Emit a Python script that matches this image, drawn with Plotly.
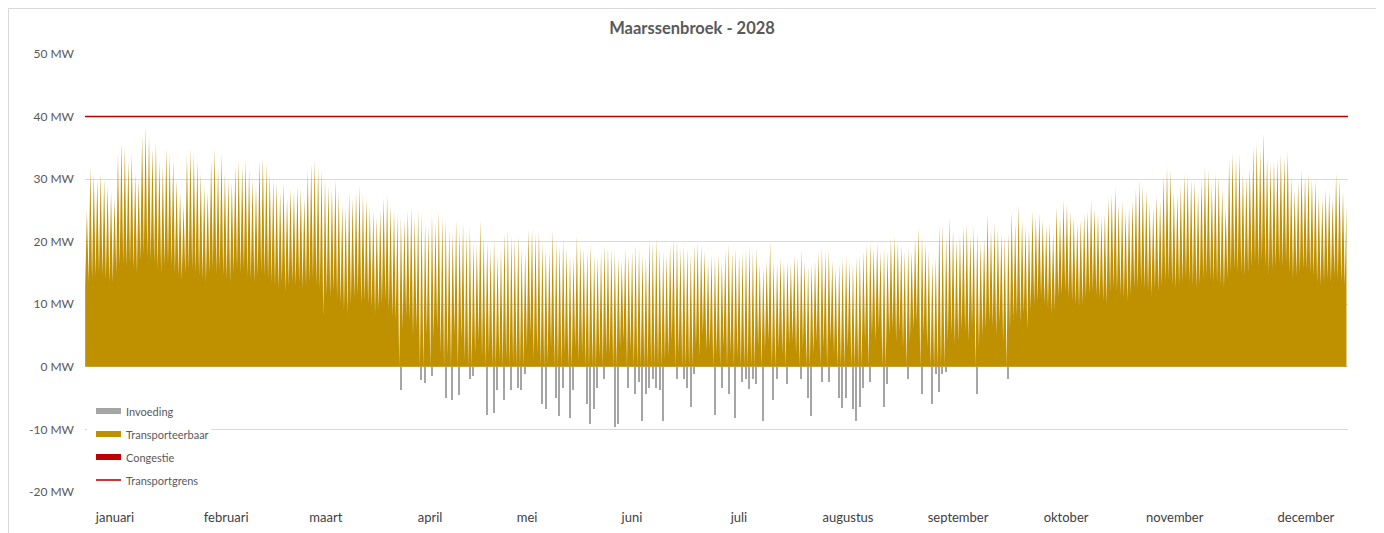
import plotly.graph_objects as go

# ---------------- data (MW) ----------------
# daily peak load per month (Transporteerbaar)
peak_jan = [25, 32, 31, 30, 31, 30, 29, 28, 27, 34, 36, 35, 33, 34, 31, 30, 37, 38.4, 37, 35,
            36, 33, 32, 35, 34, 33, 30, 28, 26, 34, 35]
peak_feb = [34, 33, 31, 29, 28, 33, 35, 32, 34, 31, 30, 29.5, 32, 33, 32, 33, 31.5, 30, 29, 33,
            33.5, 32.5, 31, 30, 29.5, 28, 29.5, 27, 28.5]
peak_mar = [28, 29, 28.5, 27, 31.5, 32.5, 33, 32, 31.5, 30, 29, 28.5, 30, 28, 26, 25.5, 28, 27, 28, 29,
            27.5, 27, 25.5, 25, 24, 25, 27, 27.5, 26, 25, 24.5]
peak_apr = [24, 23.5, 25, 25.5, 24, 25, 24.5, 23, 22.5, 24.5, 23, 25, 24, 23.5, 22, 21.5, 23.5, 22, 23, 21.5,
            22.5, 20, 19.5, 23.5, 21, 20, 19, 20.5, 18, 19]
peak_may = [21.5, 22, 21, 20.5, 21, 19, 18.5, 22, 22.2, 21.5, 22, 20, 19, 18.5, 22, 20, 19.5, 20.5, 19, 18,
            17.5, 21, 19.5, 19, 18.5, 19.8, 18, 17.6, 18.5, 19.5, 19]
peak_jun = [19, 18.5, 17.5, 17, 19, 18, 18.5, 19.5, 19, 18, 17.6, 20.5, 20, 20.6, 19, 18.5, 18, 19.5, 20.5, 20.3,
            19, 19.5, 19, 18, 19.5, 20, 19.5, 18.5, 17, 18]
peak_jul = [17.5, 18, 17, 18.5, 19.8, 18.5, 19, 18, 18.5, 19, 19.5, 18.5, 19, 16.5, 16, 17, 20, 17, 16.5, 17.5,
            17, 17, 16.5, 18, 17.5, 18.7, 17, 16, 16.5, 17, 18.5]
peak_aug = [19, 18.5, 18.8, 17, 16, 16.5, 17.5, 17.8, 17, 16.5, 17.5, 18, 18.5, 19.6, 20, 19, 19.8, 18.5, 19, 18.5,
            20.6, 21, 20, 19.5, 18.5, 19, 18.5, 20.5, 22.4, 21, 20]
peak_sep = [18.5, 17, 17.5, 22.7, 23, 21, 24, 22, 20.5, 21, 22.5, 23, 21, 22.4, 21.5, 20, 20.5, 24.5, 22, 23,
            22, 21.5, 21, 21.5, 24.8, 23, 25.9, 23.5, 22.5, 22]
peak_oct = [24.9, 24, 24.5, 23.5, 22.5, 23, 21.5, 25.6, 24, 26.7, 26.1, 25, 24, 23, 23.5, 24.5, 25, 26.7, 25.5, 24.5,
            24, 24.5, 27, 27.5, 28.8, 26, 26.5, 25, 25.5, 26.7, 28.5]
peak_nov = [29.9, 29, 28.3, 26, 25.5, 27.5, 26.5, 30.5, 32, 31.5, 28, 27.5, 29, 30.9, 30.5, 30, 29.8, 28, 30, 32,
            31.5, 29, 31, 30.4, 28.5, 25.5, 33, 34.2, 33.5, 34]
peak_dec = [31, 30.5, 32, 35.2, 35.8, 34.7, 37.5, 33.4, 32.6, 33, 33.3, 34, 33.5, 34.5, 30.4, 28.3, 29.5, 31.6, 30.5, 31,
            30, 29.9, 27.5, 27, 28.5, 28.2, 27, 31, 30, 28, 25.7]

# daily lowest load per month (Transporteerbaar)
trough_jan = [12.8, 13.5, 14, 14.5, 15, 14.5, 14, 13.5, 13.5, 15, 16, 16.5, 16, 16.5, 15.5, 15, 17, 18, 17.5, 17,
              16.5, 15.5, 15, 16, 16.5, 16, 15, 14.5, 14, 15, 15.5]
trough_feb = [15.5, 15, 14.5, 14, 13.5, 15, 15.5, 15, 15.5, 14.5, 14, 13.5, 15, 15.5, 15, 15.5, 14.5, 14, 13.5, 14.5,
              15, 14.5, 14, 13.5, 13, 12.5, 13.5, 12, 13]
trough_mar = [13.5, 13, 13.5, 12.5, 13, 13.5, 14, 13, 12.5, 8, 11.5, 11, 12, 11, 10, 9, 8.5, 10, 11, 11.5,
              10, 10.5, 10, 9.5, 8.5, 9, 10, 10.5, 9, 8, 7.5]
trough_apr = [0, 6, 8, 7.5, 5, 6, 0, 0, 5, 0, 4.5, 6, 2, 0, 1.5, 0, 5, 0, 4, 1,
              0, 0, 2, 4, 1.5, 0, 2, 0, 0, 1]
trough_may = [0, 1, 0, 0.5, 0, 0, 0, 3, 5, 1, 2, 0, 0, 0.5, 3, 0, 0, 0, 2, 0,
              0, 3, 1, 2, 0, 0, 0, 0, 1.5, 0, 2]
trough_jun = [2, 0, 0, 3, 4, 0, 2.5, 0, 0, 0, 0, 0, 0, 0, 0, 0, 1, 1.5, 4, 0,
              2, 0, 0, 0, 0, 3, 1.5, 5, 2.5, 3]
trough_jul = [0, 2, 0, 3, 0, 2, 0, 1.5, 0, 0, 0, 0, 0, 3, 0, 2.5, 4, 0, 0, 3,
              2, 0, 3.5, 4, 2, 0, 3, 0, 0, 2, 4]
trough_aug = [0, 3, 0, 4, 2, 0, 0, 0, 3, 0, 0, 0, 0, 4, 0, 5, 4, 6, 0, 0,
              5, 6, 4, 5.5, 3, 0, 4, 6, 7, 0, 5]
trough_sep = [3, 0, 0, 0, 0, 0, 4, 5, 3.5, 4, 6, 5.5, 4, 6.5, 0, 3, 5, 6, 7, 6.5,
              5, 7, 4, 0, 6, 7.5, 8, 7, 8.5, 6]
trough_oct = [9, 10, 10.5, 11, 10, 9.5, 8.5, 9, 11, 11.5, 12, 11, 10.5, 10, 9.5, 10, 11, 11.5, 12, 11.5,
              11, 10.5, 10, 12, 12.5, 12, 11.5, 11, 10.5, 11.5, 12.5]
trough_nov = [12.5, 13, 12.5, 12, 11.5, 12.5, 12, 13, 13.5, 14, 13, 12.5, 13, 13.5, 14, 13.5, 13, 12.5, 13, 14,
              14.5, 14, 13.5, 13.5, 13, 12.5, 14, 15, 15.5, 15]
trough_dec = [15, 14.5, 15, 16, 16.5, 16, 17, 16, 15, 15.5, 16, 16.5, 16, 16.5, 15, 14, 14.5, 15, 15.5, 15.5,
              15, 14.5, 13.5, 13, 13.5, 14, 13.5, 14.5, 14, 13.5, 13]

# feed-in (Invoeding): day of year (0 = 1 januari) and lowest value that day
inv_day = [91, 97, 98, 100, 104, 106, 108, 111, 112, 116, 118, 119, 121, 123, 125, 126, 127, 132, 133, 136,
           137, 138, 140, 141, 145, 146, 147, 148, 150, 153, 154, 157, 159, 160, 161, 162, 163, 164, 165, 166,
           167, 171, 173, 174, 175, 176, 182, 184, 186, 188, 190, 191, 192, 193, 194, 196, 199, 200, 203, 207,
           209, 210, 213, 215, 218, 219, 220, 222, 223, 224, 225, 227, 231, 232, 238, 242, 245, 246, 247, 248,
           249, 258, 267]
inv_mw = [-3.7, -2.1, -2.5, -1.5, -5, -5.3, -4.5, -2, -1.5, -7.7, -7.4, -3.7, -5.3, -3.7, -3.4, -3.7, -1.1, -5.9, -6.7, -4.9,
          -7.9, -3.4, -8.2, -3.7, -5.9, -9.1, -6.7, -3.4, -1.9, -9.6, -9.1, -3.4, -4.4, -2.4, -8.7, -4.4, -3.4, -1.9, -3.4, -3.7,
          -8.7, -1.9, -1.9, -3.4, -6.4, -1.1, -7.7, -3.4, -4.4, -8.2, -2.4, -1.9, -3.6, -1.9, -2.7, -8.7, -5.3, -1.9, -2.7, -1.9,
          -4.9, -7.9, -2.4, -2.4, -4.9, -6.6, -4.9, -6.7, -8.7, -6.4, -3.4, -2.4, -6.4, -2.7, -1.9, -4.4, -5.9, -1.1, -4.0, -1.1,
          -0.9, -4.4, -1.9]

transportgrens = 40
n_days = 366
month_names = ["januari", "februari", "maart", "april", "mei", "juni", "juli",
               "augustus", "september", "oktober", "november", "december"]
month_label_day = [8.7, 40.9, 69.8, 100.0, 128.1, 158.5, 189.5, 221.1, 253.0, 284.3, 315.8, 353.8]
y_ticks = [-20, -10, 0, 10, 20, 30, 40, 50]
y_ticktext = ["-20 MW", "-10 MW", "0 MW", "10 MW", "20 MW", "30 MW", "40 MW", "50 MW"]

# ---------------- build ----------------
peaks = (peak_jan + peak_feb + peak_mar + peak_apr + peak_may + peak_jun +
         peak_jul + peak_aug + peak_sep + peak_oct + peak_nov + peak_dec)
troughs = (trough_jan + trough_feb + trough_mar + trough_apr + trough_may + trough_jun +
           trough_jul + trough_aug + trough_sep + trough_oct + trough_nov + trough_dec)

xs, ys = [], []
for d, (t, p) in enumerate(zip(troughs, peaks)):
    xs += [d + 0.05, d + 0.55]
    ys += [t, p]

GOLD = "#BF9000"
GREY = "#A5A5A5"
DARKRED = "#C00000"
TXT = "#595959"
FONT = "Lato"

# the page body has an 8px margin: figure is placed at (8, 8) in the window
OFF = 8
W, H = 1384 - OFF, 533 - OFF

fig = go.Figure()
fig.add_trace(go.Scatter(x=xs, y=ys, mode="lines", fill="tozeroy", fillcolor=GOLD,
                         line=dict(width=0, color=GOLD), name="Transporteerbaar",
                         hoverinfo="skip", showlegend=False))
fig.add_trace(go.Bar(x=[d + 0.5 for d in inv_day], y=inv_mw, width=0.32,
                     marker=dict(color=GREY, line=dict(width=0)), name="Invoeding",
                     showlegend=False))
fig.add_trace(go.Scatter(x=[0, n_days], y=[transportgrens, transportgrens], mode="lines",
                         line=dict(color=DARKRED, width=1.6), name="Transportgrens",
                         showlegend=False))

# plot area in window pixels: left 85, right 1348, top 54, bottom 492
L, R, T, B = 85 - OFF, 1348 - OFF, 54 - OFF, 492 - OFF
def px(x):
    return (x - OFF - L) / (R - L)
def py(y):
    return (B - (y - OFF)) / (B - T)

shapes = []
# outer chart border
shapes.append(dict(type="rect", xref="paper", yref="paper", x0=px(8.5), x1=px(1377), y0=py(560), y1=py(8.5),
                   line=dict(color="#D9D9D9", width=1), fillcolor="rgba(0,0,0,0)", layer="below"))
# legend background
shapes.append(dict(type="rect", xref="paper", yref="paper", x0=px(87), x1=px(211), y0=py(488), y1=py(401),
                   line=dict(width=0), fillcolor="white", layer="above"))
legend_items = [("Invoeding", GREY, 411, "bar"), ("Transporteerbaar", GOLD, 434, "bar"),
                ("Congestie", DARKRED, 457, "bar"), ("Transportgrens", DARKRED, 480, "line")]
annotations = []
for name, col, yc, kind in legend_items:
    if kind == "bar":
        shapes.append(dict(type="rect", xref="paper", yref="paper", x0=px(96), x1=px(121),
                           y0=py(yc + 3), y1=py(yc - 3), line=dict(width=0), fillcolor=col, layer="above"))
    else:
        shapes.append(dict(type="line", xref="paper", yref="paper", x0=px(96), x1=px(121),
                           y0=py(yc), y1=py(yc), line=dict(color=col, width=1.6), layer="above"))
    annotations.append(dict(x=px(124), y=py(yc), xref="paper", yref="paper", text=name,
                            showarrow=False, xanchor="left", yanchor="middle",
                            font=dict(family=FONT, size=11, color=TXT)))

fig.update_layout(
    width=W, height=H,
    margin=dict(l=L, r=W - R, t=T, b=H - B, pad=0, autoexpand=False),
    paper_bgcolor="white", plot_bgcolor="white",
    font=dict(family=FONT, color=TXT),
    title=dict(text="<b>Maarssenbroek - 2028</b>", xref="container", x=(692 - OFF) / W, xanchor="center",
               y=1 - (28 - OFF) / H, yanchor="middle", font=dict(family=FONT, size=16.5, color=TXT)),
    barmode="overlay", bargap=0,
    shapes=shapes, annotations=annotations,
    showlegend=False,
    xaxis=dict(range=[0, n_days], tickvals=month_label_day, ticktext=month_names,
               showgrid=False, zeroline=False, showline=False, ticks="",
               tickfont=dict(family=FONT, size=13, color="#404040"), ticklabelstandoff=16,
               automargin=False, fixedrange=True),
    yaxis=dict(range=[-20, 50], tickvals=y_ticks, ticktext=y_ticktext,
               showgrid=True, gridcolor="#D9D9D9", gridwidth=1,
               zeroline=True, zerolinecolor="#D9D9D9", zerolinewidth=1,
               showline=False, ticks="", tickfont=dict(family=FONT, size=12, color=TXT),
               ticklabelstandoff=10, automargin=False, fixedrange=True),
)

fig.write_html("out.html")
